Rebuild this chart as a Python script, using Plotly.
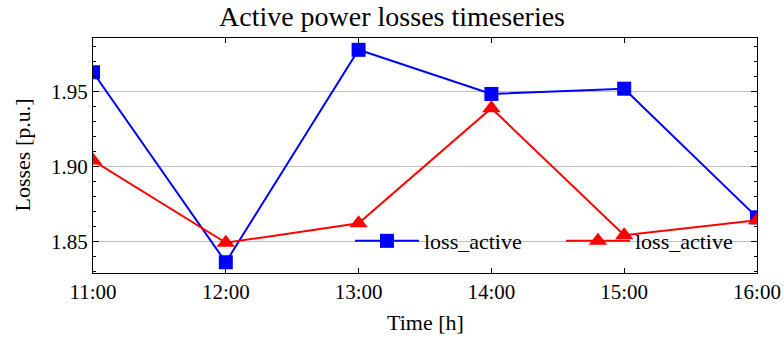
import plotly.graph_objects as go

# Hourly timestamps and active-power losses (p.u.)
times = ["2023-01-01 11:00", "2023-01-01 12:00", "2023-01-01 13:00",
         "2023-01-01 14:00", "2023-01-01 15:00", "2023-01-01 16:00"]
loss_a = [1.963, 1.836, 1.978, 1.9485, 1.952, 1.866]
loss_b = [1.904, 1.849, 1.862, 1.939, 1.854, 1.864]
y_ticks = [1.85, 1.90, 1.95]
y_tick_labels = ["1.85", "1.90", "1.95"]

SERIF = "Liberation Serif"
PLOT_L, PLOT_R, PLOT_T, PLOT_B = 93, 27, 38, 65
W, H = 784, 338

fig = go.Figure()
fig.add_trace(go.Scatter(
    x=times, y=loss_a, mode="lines+markers", name="loss_active",
    line=dict(color="#0000ff", width=2),
    marker=dict(symbol="square", size=14, color="#0000ff"),
))
fig.add_trace(go.Scatter(
    x=times, y=loss_b, mode="lines+markers", name="loss_active",
    line=dict(color="#ff0000", width=2),
    marker=dict(symbol="triangle-up", size=16, color="#ff0000"),
))

plot_w = W - PLOT_L - PLOT_R
plot_h = H - PLOT_T - PLOT_B

fig.update_layout(
    width=W, height=H,
    margin=dict(l=PLOT_L, r=PLOT_R, t=PLOT_T, b=PLOT_B, autoexpand=False),
    paper_bgcolor="white", plot_bgcolor="white",
    font=dict(family=SERIF, size=21, color="black"),
    title=dict(text="Active power losses timeseries", x=0.5, xanchor="center",
               y=0.952, yanchor="middle", font=dict(family=SERIF, size=28)),
    legend=dict(orientation="h", x=0.387, xanchor="left", y=0.136, yanchor="middle",
                bgcolor="rgba(0,0,0,0)", font=dict(family=SERIF, size=22),
                entrywidth=132, entrywidthmode="pixels", itemwidth=64,
                tracegroupgap=0),
    showlegend=True,
    annotations=[
        # axis titles placed in paper coordinates
        dict(text="Time [h]", xref="paper", yref="paper",
             x=0.5, y=-(322 - (H - PLOT_B)) / plot_h, xanchor="center", yanchor="middle",
             showarrow=False, font=dict(family=SERIF, size=22)),
        dict(text="Losses [p.u.]", xref="paper", yref="paper", textangle=-90,
             x=-(PLOT_L - 22) / plot_w, y=0.5, xanchor="center", yanchor="middle",
             showarrow=False, font=dict(family=SERIF, size=22)),
    ],
)

fig.update_xaxes(
    type="date", range=[times[0], times[-1]],
    tickformat="%H:%M", dtick=3600000,
    tickfont=dict(family=SERIF, size=21), ticklabelstandoff=0,
    ticks="inside", ticklen=5, tickcolor="black", tickwidth=1,
    showline=True, linecolor="black", linewidth=1.2, mirror="allticks",
    showgrid=False, zeroline=False, automargin=False,
)
fig.update_yaxes(
    range=[1.8288, 1.9859],
    tickvals=y_ticks, ticktext=y_tick_labels,
    tickfont=dict(family=SERIF, size=21),
    ticks="inside", ticklen=6, tickcolor="black", tickwidth=1,
    minor=dict(ticks="inside", dtick=0.01, tick0=1.85, ticklen=3,
               tickcolor="black", showgrid=False),
    showline=True, linecolor="black", linewidth=1.2, mirror="allticks",
    showgrid=True, gridcolor="#bfbfbf", gridwidth=1, zeroline=False,
    automargin=False,
)

fig.write_html("out.html")
